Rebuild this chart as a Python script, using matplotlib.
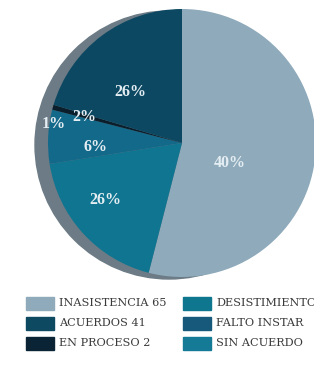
import matplotlib.pyplot as plt
from matplotlib.patches import Circle, Rectangle

# slice sizes as drawn in the picture (clockwise from 12 o'clock)
slice_names = ["INASISTENCIA", "DESISTIMIENTO", "FALTO INSTAR", "EN PROCESO", "ACUERDOS"]
slice_sizes = [54, 18.5, 6.5, 0.6, 20.4]
slice_colors = ["#8eaabb", "#0f7590", "#13698a", "#0a1e2b", "#0c4862"]

# printed percent labels
pct_labels = ["40%", "26%", "6%", "2%", "1%", "26%"]
pct_xy = [(230, 208), (130, 279), (96, 224), (84, 254), (54, 247), (105, 171)]

# legend
legend_names = ["INASISTENCIA 65", "ACUERDOS 41", "EN PROCESO 2",
                "DESISTIMIENTO", "FALTO INSTAR", "SIN ACUERDO"]
legend_colors = ["#8faaba", "#0e4962", "#0b2435", "#0f7690", "#17597a", "#147a95"]

fig = plt.figure(figsize=(3.14, 3.71), dpi=100)
ax = fig.add_axes([0, 0, 1, 1])

cx, cy, r = 182, 228, 134

# grey rim behind the pie
ax.add_patch(Circle((cx - 13, cy - 2), r, color="#6c7b85", zorder=0))

ax.pie(slice_sizes, colors=slice_colors, startangle=90, counterclock=False,
       center=(cx, cy), radius=r, wedgeprops=dict(linewidth=0))

for txt, (x, y) in zip(pct_labels, pct_xy):
    ax.text(x, y, txt, ha="center", va="center", fontsize=11.5,
            fontweight="bold", family="Liberation Serif", color="#e4edf2", zorder=5)

# legend, 2 columns x 3 rows
for i, (name, col) in enumerate(zip(legend_names, legend_colors)):
    c, row = divmod(i, 3)
    x0 = 26 if c == 0 else 183
    y0 = 371 - 310 - row * 20
    ax.add_patch(Rectangle((x0, y0), 28, 13, color=col, clip_on=False))
    ax.text(x0 + 33, y0 + 6.5, name, ha="left", va="center", fontsize=8.1,
            family="DejaVu Serif", color="#3a3a3a", clip_on=False)

ax.set_xlim(0, 314)
ax.set_ylim(0, 371)
ax.set_aspect("equal")
ax.axis("off")

fig.savefig("out.png", dpi=100)
